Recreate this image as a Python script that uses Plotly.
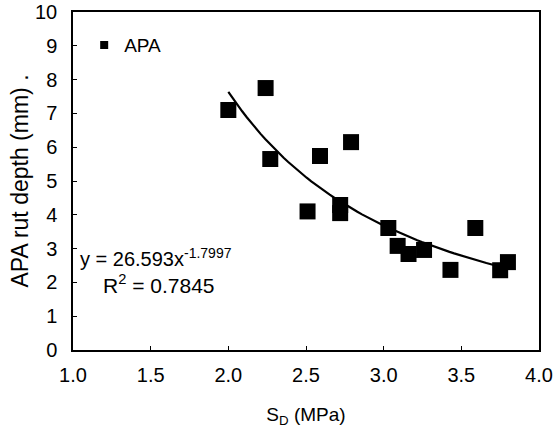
import numpy as np
import plotly.graph_objects as go

# Data
sd_mpa = [2.00, 2.24, 2.27, 2.51, 2.59, 2.72, 2.72, 2.79, 3.03, 3.09, 3.16, 3.26, 3.43, 3.59, 3.75, 3.80]
rut_mm = [7.10, 7.75, 5.65, 4.10, 5.74, 4.29, 4.05, 6.15, 3.61, 3.08, 2.84, 2.96, 2.37, 3.61, 2.36, 2.60]

# Power-law trendline coefficients shown on the chart
fit_a = 26.593
fit_b = -1.7997
fit_x = np.linspace(2.0, 3.75, 60)
fit_y = fit_a * fit_x ** fit_b

x_ticks = [1.0, 1.5, 2.0, 2.5, 3.0, 3.5, 4.0]
y_ticks = list(range(0, 11))

FONT = "Liberation Sans, Arial, sans-serif"

fig = go.Figure()
fig.add_trace(go.Scatter(
    x=sd_mpa, y=rut_mm, mode="markers", name="APA", showlegend=False,
    marker=dict(symbol="square", size=16, color="black"),
))
fig.add_trace(go.Scatter(
    x=fit_x, y=fit_y, mode="lines", showlegend=False,
    line=dict(color="black", width=2.2), hoverinfo="skip",
))
# legend entry (small marker, as in the reference)
fig.add_trace(go.Scatter(
    x=[None], y=[None], mode="markers", name="APA", showlegend=True,
    marker=dict(symbol="square", size=8, color="black"),
))

fig.update_layout(
    width=555, height=428,
    margin=dict(l=73, r=16, t=12, b=78),
    paper_bgcolor="white", plot_bgcolor="white",
    font=dict(family=FONT, size=16, color="black"),
    legend=dict(x=0.024, y=0.958, xanchor="left", yanchor="top",
                bgcolor="rgba(0,0,0,0)", font=dict(size=19, family=FONT),
                itemwidth=30, tracegroupgap=0),
    xaxis=dict(
        range=[1.0, 4.0], tickvals=x_ticks, ticktext=[f"{v:.1f}" for v in x_ticks],
        showgrid=False, zeroline=False, showline=True, linecolor="black", linewidth=1.5,
        mirror=True, ticks="inside", ticklen=4, tickcolor="black", automargin=False,
        ticklabeloverflow="allow",
        tickfont=dict(size=20, family=FONT), ticklabelstandoff=6,
        title=dict(text="S<sub>D</sub> (MPa)", font=dict(size=19, family=FONT), standoff=31),
    ),
    yaxis=dict(
        range=[0, 10], tickvals=y_ticks,
        showgrid=False, zeroline=False, showline=True, linecolor="black", linewidth=1.5,
        mirror=True, ticks="inside", ticklen=4, tickcolor="black", automargin=False,
        ticklabeloverflow="allow",
        tickfont=dict(size=20, family=FONT), ticklabelstandoff=10,
        title=dict(text="APA rut depth (mm) .", font=dict(size=23, family=FONT), standoff=0),
    ),
    annotations=[
        dict(x=1.03, y=2.75, xref="x", yref="y", xanchor="left", yanchor="middle",
             text="y = 26.593x<sup>-1.7997</sup>", showarrow=False,
             font=dict(size=20, family=FONT)),
        dict(x=1.18, y=1.95, xref="x", yref="y", xanchor="left", yanchor="middle",
             text="R<sup>2</sup> = 0.7845", showarrow=False,
             font=dict(size=21, family=FONT)),
    ],
)

fig.write_html("out.html", config={"displayModeBar": False},
               post_script="document.body.style.margin='0px';")
